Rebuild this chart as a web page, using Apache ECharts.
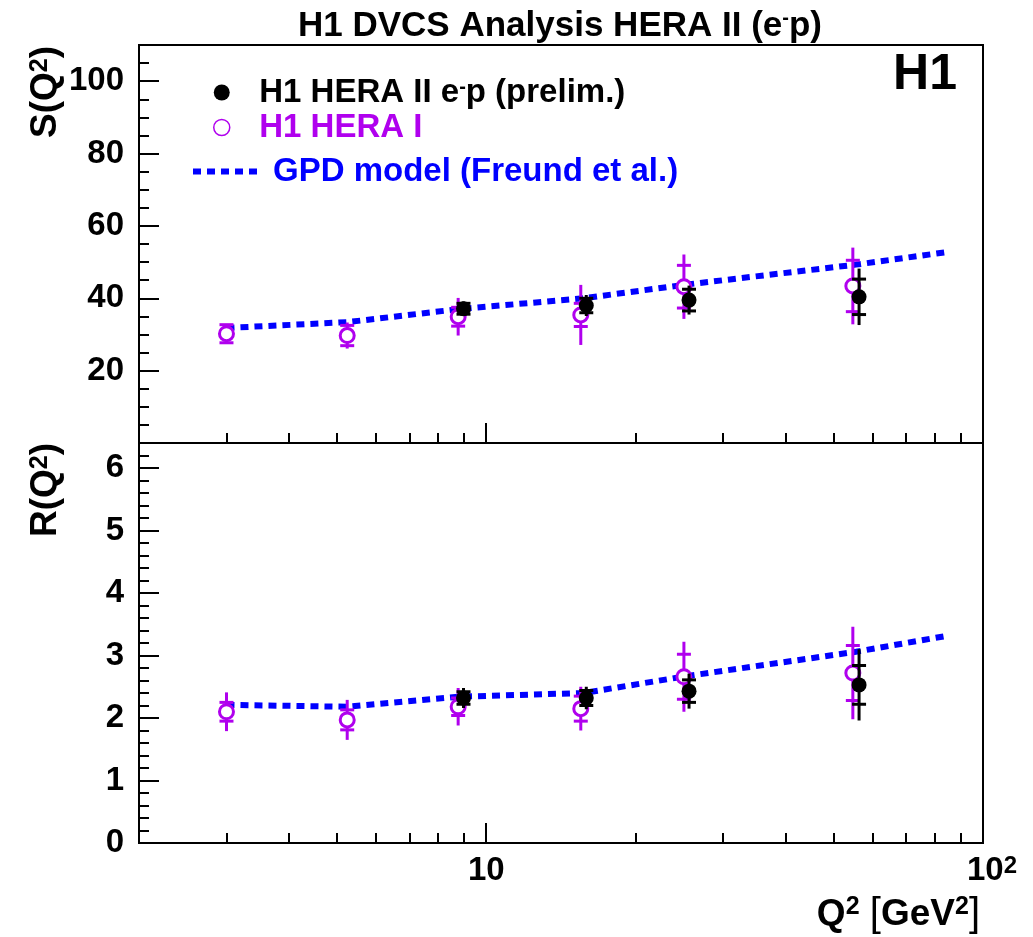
<!DOCTYPE html>
<html><head><meta charset="utf-8">
<script src="https://cdn.jsdelivr.net/npm/echarts@6/dist/echarts.min.js"></script>
<style>html,body{margin:0;padding:0;background:#fff}#main{width:1033px;height:937px}</style>
</head><body><div id="main"></div>
<script>
const FONT = "'Liberation Sans', Arial, Helvetica, sans-serif";
const PURPLE = '#b000ee';
const BLUE = '#0000ff';

// H1 HERA II e-p (prelim.)
const q2HeraII = [9.0, 15.9, 25.6, 56.3];
const sHeraII = [37.1, 38.0, 39.5, 40.4];
const sHeraIIStat = [1.5, 2.0, 3.0, 4.9];
const sHeraIITot = [2.0, 2.9, 4.0, 7.8];
const rHeraII = [2.32, 2.32, 2.43, 2.53];
const rHeraIIStat = [0.10, 0.12, 0.18, 0.31];
const rHeraIITot = [0.16, 0.18, 0.28, 0.57];

// H1 HERA I
const q2HeraI = [3.0, 5.25, 8.78, 15.5, 25.0, 54.7];
const sHeraI = [30.2, 29.7, 34.9, 35.4, 43.2, 43.4];
const sHeraIStat = [2.5, 2.8, 2.6, 3.2, 5.9, 7.1];
const sHeraITot = [2.7, 3.6, 5.2, 8.3, 8.9, 10.6];
const rHeraI = [2.10, 1.97, 2.18, 2.15, 2.66, 2.72];
const rHeraIStat = [0.15, 0.16, 0.14, 0.20, 0.36, 0.44];
const rHeraITot = [0.31, 0.32, 0.30, 0.35, 0.56, 0.74];

// GPD model (Freund et al.)
const q2Model = [3.0, 5.25, 8.8, 15.7, 25.3, 55.5, 84];
const sModel = [31.8, 33.4, 37.0, 40.0, 43.8, 49.3, 52.7];
const rModel = [2.21, 2.18, 2.34, 2.40, 2.67, 3.06, 3.31];

// axes
const xRange = [2, 100];
const xMajorTicks = [10, 100];
const xMinorTicks = [3, 4, 5, 6, 7, 8, 9, 20, 30, 40, 50, 60, 70, 80, 90];
const sRange = [0, 110];
const sTickLabels = [20, 40, 60, 80, 100];
const rRange = [0, 6.4];
const rTickLabels = [0, 1, 2, 3, 4, 5, 6];

const NAME_II = 'H1 HERA II e-p (prelim.)';
const NAME_I = 'H1 HERA I';
const NAME_M = 'GPD model (Freund et al.)';

const lg = v => Math.log10(v);
const pts = (q, v) => q.map((x, i) => [lg(x), v[i]]);
const errs = (q, v, st, tot) => q.map((x, i) => [lg(x), v[i] - tot[i], v[i] + tot[i], v[i] - st[i], v[i] + st[i]]);

function errRender(color) {
  return function (params, api) {
    const x = api.value(0);
    const a = api.coord([x, api.value(1)]);
    const b = api.coord([x, api.value(2)]);
    const c = api.coord([x, api.value(3)]);
    const d = api.coord([x, api.value(4)]);
    const hw = 7;
    const st = { stroke: color, lineWidth: 3, fill: null };
    return { type: 'group', children: [
      { type: 'line', shape: { x1: a[0], y1: a[1], x2: b[0], y2: b[1] }, style: st },
      { type: 'line', shape: { x1: c[0] - hw, y1: c[1], x2: c[0] + hw, y2: c[1] }, style: st },
      { type: 'line', shape: { x1: d[0] - hw, y1: d[1], x2: d[0] + hw, y2: d[1] }, style: st }
    ]};
  };
}

const tickStyle = { color: '#000', width: 2 };
const xBase = { type: 'value', position: 'bottom', min: lg(xRange[0]), max: lg(xRange[1]), splitLine: { show: false }, axisLine: { show: false } };
const yBase = { type: 'value', position: 'left', axisLine: { show: false }, splitLine: { show: false } };
const labelFont = { fontFamily: FONT, fontWeight: 'bold', fontSize: 33, color: '#000' };

function panelSeries(g, model, vI, stI, totI, vII, stII, totII, tag) {
  return [
    { name: NAME_M, type: 'line', xAxisIndex: 2 * g, yAxisIndex: 2 * g, data: pts(q2Model, model),
      symbol: 'none', showSymbol: false, lineStyle: { color: BLUE, width: 6, type: [8, 6] }, itemStyle: { color: BLUE }, z: 2 },
    { name: 'errI' + tag, type: 'custom', xAxisIndex: 2 * g, yAxisIndex: 2 * g, data: errs(q2HeraI, vI, stI, totI),
      renderItem: errRender(PURPLE), encode: { x: 0, y: [1, 2] }, z: 3 },
    { name: NAME_I, type: 'scatter', xAxisIndex: 2 * g, yAxisIndex: 2 * g, data: pts(q2HeraI, vI),
      symbol: 'circle', symbolSize: 14, itemStyle: { color: '#fff', borderColor: PURPLE, borderWidth: 3, opacity: 1 }, z: 4 },
    { name: 'errII' + tag, type: 'custom', xAxisIndex: 2 * g, yAxisIndex: 2 * g, data: errs(q2HeraII, vII, stII, totII),
      renderItem: errRender('#000'), encode: { x: 0, y: [1, 2] }, z: 5 },
    { name: NAME_II, type: 'scatter', xAxisIndex: 2 * g, yAxisIndex: 2 * g, data: pts(q2HeraII, vII),
      symbol: 'circle', symbolSize: 15, itemStyle: { color: '#000', opacity: 1 }, z: 6 }
  ];
}

const supRich = (size) => ({ fontFamily: FONT, fontWeight: 'bold', fontSize: size, lineHeight: size, verticalAlign: 'top' });

const option = {
  animation: false,
  backgroundColor: '#fff',
  textStyle: { fontFamily: FONT },
  title: [
    { text: 'H1 DVCS Analysis HERA II (e{sup|-}p)', left: 555, top: 3, textAlign: 'center',
      textStyle: { fontFamily: FONT, fontWeight: 'bold', fontSize: 35, lineHeight: 36, color: '#000', rich: { sup: supRich(20) } } },
    { text: 'H1', left: 920, top: 45, textAlign: 'center',
      textStyle: { fontFamily: FONT, fontWeight: 'bold', fontSize: 50, color: '#000' } }
  ],
  legend: [
    { data: [ { name: NAME_II, textStyle: { color: '#000' } },
              { name: NAME_I, textStyle: { color: PURPLE }, itemStyle: { borderWidth: 1.5 } } ],
      orient: 'vertical', left: 208, top: 71, itemWidth: 65, itemHeight: 16, itemGap: 2, selectedMode: false,
      formatter: n => n === NAME_II ? 'H1 HERA II e{sup|-}p (prelim.)' : n,
      textStyle: { fontFamily: FONT, fontWeight: 'bold', fontSize: 33, lineHeight: 31, rich: { sup: supRich(20) } } },
    { data: [ { name: NAME_M, textStyle: { color: BLUE },
                itemStyle: { color: 'rgba(0,0,0,0)', borderColor: 'rgba(0,0,0,0)', borderWidth: 0, opacity: 0 },
                lineStyle: { color: BLUE, width: 6, type: [8, 6] } } ],
      orient: 'vertical', left: 185, top: 150, itemWidth: 65, itemHeight: 16, selectedMode: false,
      textStyle: { fontFamily: FONT, fontWeight: 'bold', fontSize: 33, lineHeight: 31, padding: [0, 0, 0, 10] } }
  ],
  grid: [
    { left: 139, right: 50, top: 45, height: 398, show: true, borderColor: '#000', borderWidth: 2, backgroundColor: 'transparent', containLabel: false, outerBoundsMode: 'none' },
    { left: 139, right: 50, top: 443, height: 400, show: true, borderColor: '#000', borderWidth: 2, backgroundColor: 'transparent', containLabel: false, outerBoundsMode: 'none' }
  ],
  xAxis: [
    Object.assign({}, xBase, { gridIndex: 0, axisTick: { inside: true, length: 20, lineStyle: tickStyle, customValues: xMajorTicks.map(lg) }, axisLabel: { show: false } }),
    Object.assign({}, xBase, { gridIndex: 0, axisTick: { inside: true, length: 10, lineStyle: tickStyle, customValues: xMinorTicks.map(lg) }, axisLabel: { show: false } }),
    Object.assign({}, xBase, { gridIndex: 1, axisTick: { inside: true, length: 20, lineStyle: tickStyle, customValues: xMajorTicks.map(lg) },
      axisLabel: Object.assign({ show: true, margin: 11, customValues: xMajorTicks.map(lg),
        formatter: v => (Math.abs(v - 2) < 1e-6 ? '{pad|}10{sup|2}' : '10'),
        rich: { pad: { width: 18 }, sup: supRich(24) } }, labelFont) }),
    Object.assign({}, xBase, { gridIndex: 1, axisTick: { inside: true, length: 10, lineStyle: tickStyle, customValues: xMinorTicks.map(lg) }, axisLabel: { show: false } })
  ],
  yAxis: [
    Object.assign({}, yBase, { gridIndex: 0, min: sRange[0], max: sRange[1],
      axisTick: { inside: true, length: 20, lineStyle: tickStyle, customValues: sTickLabels },
      axisLabel: Object.assign({ customValues: sTickLabels, margin: 15 }, labelFont) }),
    Object.assign({}, yBase, { gridIndex: 0, min: sRange[0], max: sRange[1], interval: 5,
      axisTick: { inside: true, length: 10, lineStyle: tickStyle }, axisLabel: { show: false } }),
    Object.assign({}, yBase, { gridIndex: 1, min: rRange[0], max: rRange[1],
      axisTick: { inside: true, length: 20, lineStyle: tickStyle, customValues: rTickLabels },
      axisLabel: Object.assign({ customValues: rTickLabels, margin: 15 }, labelFont) }),
    Object.assign({}, yBase, { gridIndex: 1, min: rRange[0], max: rRange[1], interval: 0.2,
      axisTick: { inside: true, length: 10, lineStyle: tickStyle }, axisLabel: { show: false } })
  ],
  graphic: [
    { type: 'text', x: 46, y: 46, rotation: Math.PI / 2, silent: true,
      style: { text: 'S(Q{sup|2})', align: 'right', verticalAlign: 'middle', fill: '#000',
        font: 'bold 37px ' + FONT, rich: { sup: supRich(25) } } },
    { type: 'text', x: 46, y: 443, rotation: Math.PI / 2, silent: true,
      style: { text: 'R(Q{sup|2})', align: 'right', verticalAlign: 'middle', fill: '#000',
        font: 'bold 37px ' + FONT, rich: { sup: supRich(25) } } },
    { type: 'text', x: 980, y: 915, silent: true,
      style: { text: 'Q{sup|2} {br|[}GeV{sup|2}{br|]}', align: 'right', verticalAlign: 'middle', fill: '#000',
        font: 'bold 37px ' + FONT, rich: { sup: supRich(25), br: { fontFamily: FONT, fontWeight: 'normal', fontSize: 40 } } } }
  ],
  series: [].concat(
    panelSeries(0, sModel, sHeraI, sHeraIStat, sHeraITot, sHeraII, sHeraIIStat, sHeraIITot, 'S'),
    panelSeries(1, rModel, rHeraI, rHeraIStat, rHeraITot, rHeraII, rHeraIIStat, rHeraIITot, 'R')
  )
};

const chart = echarts.init(document.getElementById('main'), null, { renderer: 'canvas' });
chart.setOption(option);
</script>
</body></html>
